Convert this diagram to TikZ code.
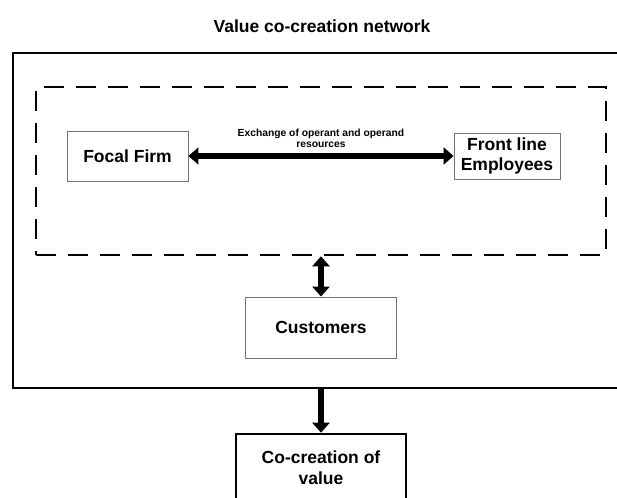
\documentclass[tikz,border=0pt]{standalone}
\usepackage{fontspec}
\setmainfont{Liberation Sans}
\usetikzlibrary{arrows.meta}

\tikzset{
  actor/.style={draw=black!55, line width=0.9pt, font=\fontsize{17.5}{20}\selectfont\bfseries, align=center, inner sep=0pt},
  frame/.style={draw, line width=2.6pt, inner sep=0pt},
  flow/.style={line width=5.5pt, -{Triangle[width=17pt,length=10pt]}},
  both/.style={line width=5.5pt, {Triangle[width=17pt,length=10pt]}-{Triangle[width=17pt,length=10pt]}}
}

\begin{document}
\begin{tikzpicture}[x=1pt,y=-1pt]
  \useasboundingbox (0,0) rectangle (617,497);
  \clip (0,0) rectangle (617,497);

  \node[font=\fontsize{17.5}{20}\selectfont\bfseries] (title) at (322,26) {Value co-creation network};

  % outer network and the dashed firm side
  \node[frame, minimum width=616pt, minimum height=335pt] (network) at (321,220.5) {};
  \node[frame, dash pattern=on 20pt off 12pt, minimum width=570pt, minimum height=168pt] (core) at (321,171) {};

  \node[actor, minimum width=121pt, minimum height=50pt] (firm) at (127.5,156) {Focal Firm};
  \node[actor, minimum width=106pt, minimum height=46pt] (staff) at (507,156) {Front line\\Employees};
  \node[actor, minimum width=151pt, minimum height=61pt] (cust) at (321,327.5) {Customers};
  \node[frame, font=\fontsize{17.5}{21}\selectfont\bfseries, align=center, minimum width=170pt, minimum height=68pt] (value) at (321,468) {Co-creation of\\value};

  \node[font=\fontsize{10.3}{11}\selectfont\bfseries, align=center] (exch) at (321,138) {Exchange of operant and operand\\resources};

  \begin{scope}
    \draw[both] (firm) -- (staff);
    \draw[both] (core.south) -- (cust.north);
    \draw[flow] (network.south) -- (value.north);
  \end{scope}
\end{tikzpicture}
\end{document}
